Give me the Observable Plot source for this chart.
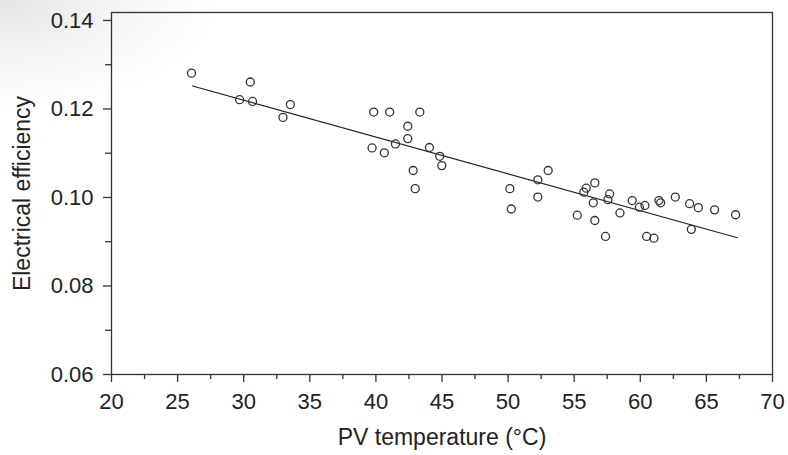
<!DOCTYPE html>
<html>
<head>
<meta charset="utf-8">
<script src="https://cdn.jsdelivr.net/npm/d3@7"></script>
<script src="https://cdn.jsdelivr.net/npm/@observablehq/plot@0.6"></script>
<style>
  html, body { margin: 0; padding: 0; }
  body {
    width: 788px; height: 455px; overflow: hidden;
    background: radial-gradient(ellipse 220px 110px at 0 0, #e4e4e4 0%, #f3f3f3 45%, #ffffff 100%);
  }
  #chart svg { display: block; }
</style>
</head>
<body>
<div id="chart"></div>
<script>
// PV temperature (°C) and electrical efficiency
const temperature = [
  26.05, 29.69, 30.5, 30.67, 32.97, 33.53,
  39.83, 39.71, 40.64, 41.04, 41.48, 42.41, 42.41, 42.82, 42.97, 43.32,
  44.05, 44.83, 44.98,
  50.13, 50.24, 52.25, 52.25, 53.03,
  55.23, 55.73, 55.91, 56.44, 56.56, 56.56, 57.37, 57.55, 57.68, 58.46,
  59.39, 59.93, 60.35, 60.48, 61.03, 61.41, 61.54, 62.65, 63.73, 63.86,
  64.39, 65.62, 67.21
];
const efficiency = [
  0.1281, 0.1221, 0.1261, 0.1217, 0.1181, 0.1210,
  0.1193, 0.1112, 0.1101, 0.1193, 0.1121, 0.1161, 0.1133, 0.1061, 0.1020, 0.1193,
  0.1113, 0.1093, 0.1072,
  0.1020, 0.0974, 0.1040, 0.1001, 0.1061,
  0.0960, 0.1012, 0.1021, 0.0988, 0.1033, 0.0948, 0.0912, 0.0995, 0.1008, 0.0965,
  0.0993, 0.0978, 0.0982, 0.0912, 0.0908, 0.0993, 0.0988, 0.1001, 0.0986, 0.0928,
  0.0977, 0.0972, 0.0961
];
// fitted line (end points)
const fitTemperature = [26.13, 67.34];
const fitEfficiency = [0.1252, 0.0909];

const xTicks = [20, 25, 30, 35, 40, 45, 50, 55, 60, 65, 70];
const xMinorTicks = [22.5, 27.5, 32.5, 37.5, 42.5, 47.5, 52.5, 57.5, 62.5, 67.5];
const yTicks = [0.06, 0.08, 0.10, 0.12, 0.14];
const yTickLabels = ["0.06", "0.08", "0.10", "0.12", "0.14"];
const yMinorTicks = [0.07, 0.09, 0.11, 0.13];
const xLabel = "PV temperature (°C)";
const yLabel = "Electrical efficiency";

const points = temperature.map((t, i) => ({t, e: efficiency[i]}));
const fit = fitTemperature.map((t, i) => ({t, e: fitEfficiency[i]}));

const ink = "#222";
const chart = Plot.plot({
  width: 788,
  height: 455,
  marginLeft: 111,
  marginRight: 16,
  marginTop: 12,
  marginBottom: 81,
  x: {domain: [20, 70]},
  y: {domain: [0.06, 0.1418]},
  style: {
    fontFamily: "'Liberation Sans', Arial, Helvetica, sans-serif",
    color: ink,
    background: "transparent",
    overflow: "visible"
  },
  marks: [
    Plot.frame({stroke: "#333", strokeWidth: 1.3}),
    Plot.axisX({ticks: xTicks, tickSize: 8, tickPadding: 11, fontSize: 22, label: null, stroke: "#333", strokeWidth: 1.3}),
    Plot.axisX({ticks: xMinorTicks, tickSize: 5, tickFormat: () => "", label: null, stroke: "#333", strokeWidth: 1.3}),
    Plot.axisY({ticks: yTicks, tickSize: 8, tickPadding: 10, fontSize: 22, label: null,
      tickFormat: (d) => yTickLabels[yTicks.findIndex(v => Math.abs(v - d) < 1e-9)], stroke: "#333", strokeWidth: 1.3}),
    Plot.axisY({ticks: yMinorTicks, tickSize: 6, tickFormat: () => "", label: null, stroke: "#333", strokeWidth: 1.3}),
    Plot.line(fit, {x: "t", y: "e", stroke: "#222", strokeWidth: 1.2}),
    Plot.dot(points, {x: "t", y: "e", r: 4, stroke: "#333", strokeWidth: 1.3, fill: "none"}),
    Plot.text([xLabel], {text: d => d, frameAnchor: "bottom", dy: 63, fontSize: 23, fill: ink, lineAnchor: "middle", textAnchor: "middle"}),
    Plot.text([yLabel], {text: d => d, frameAnchor: "left", dx: -89, rotate: -90, fontSize: 23, fill: ink, lineAnchor: "middle", textAnchor: "middle"})
  ]
});
document.getElementById("chart").append(chart);
</script>
</body>
</html>
